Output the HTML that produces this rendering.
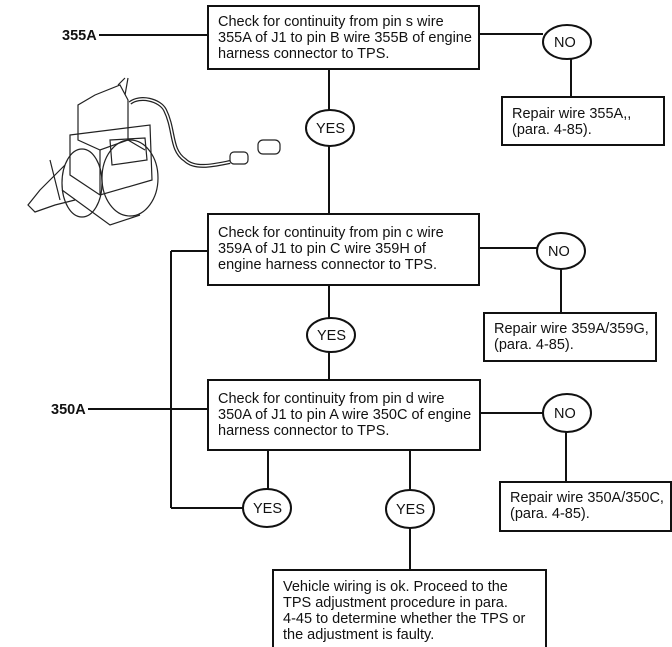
<!DOCTYPE html>
<html><head><style>
html,body{margin:0;padding:0;background:#fff;}
svg{display:block;}
text{font-family:"Liberation Sans",Arial,sans-serif;font-size:14.5px;fill:#111;}
</style></head><body>
<svg width="672" height="647" viewBox="0 0 672 647" xmlns="http://www.w3.org/2000/svg">
<g stroke="#111" stroke-width="2" fill="none">
<rect x="208" y="6" width="271" height="63" fill="#fff"/>
<line x1="99" y1="35" x2="208" y2="35"/>
<line x1="479" y1="34" x2="543" y2="34"/>
<ellipse cx="567" cy="42" rx="24" ry="17" fill="#fff"/>
<line x1="571" y1="59" x2="571" y2="97"/>
<rect x="502" y="97" width="162" height="48"/>
<line x1="329" y1="69" x2="329" y2="110"/>
<ellipse cx="330" cy="128" rx="24" ry="18"/>
<line x1="329" y1="146" x2="329" y2="214"/>
<rect x="208" y="214" width="271" height="71"/>
<line x1="208" y1="251" x2="171" y2="251"/>
<line x1="171" y1="251" x2="171" y2="508"/>
<line x1="171" y1="508" x2="243" y2="508"/>
<line x1="479" y1="248" x2="537" y2="248"/>
<ellipse cx="561" cy="251" rx="24" ry="18"/>
<line x1="561" y1="269" x2="561" y2="313"/>
<rect x="484" y="313" width="172" height="48"/>
<line x1="329" y1="285" x2="329" y2="318"/>
<ellipse cx="331" cy="335" rx="24" ry="17"/>
<line x1="329" y1="352" x2="329" y2="380"/>
<rect x="208" y="380" width="272" height="70"/>
<line x1="88" y1="409" x2="208" y2="409"/>
<line x1="480" y1="413" x2="543" y2="413"/>
<ellipse cx="567" cy="413" rx="24" ry="19"/>
<line x1="566" y1="432" x2="566" y2="482"/>
<rect x="500" y="482" width="171" height="49"/>
<line x1="268" y1="450" x2="268" y2="489"/>
<ellipse cx="267" cy="508" rx="24" ry="19"/>
<line x1="410" y1="450" x2="410" y2="490"/>
<ellipse cx="410" cy="509" rx="24" ry="19"/>
<line x1="410" y1="528" x2="410" y2="570"/>
<rect x="273" y="570" width="273" height="90"/>
</g>
<g stroke="#222" stroke-width="1.2" fill="none">
<path d="M95 95 L120 85 L128 100 L128 140 L100 150 L78 140 L78 105 Z"/>
<path d="M70 135 L150 125 L152 180 L100 195 L70 175 Z"/>
<path d="M110 140 L145 138 L147 160 L112 165 Z"/>
<ellipse cx="130" cy="178" rx="28" ry="38"/>
<ellipse cx="82" cy="183" rx="20" ry="34"/>
<path d="M65 165 L40 190 L28 205 L35 212 L55 205 L75 200"/>
<path d="M50 160 L60 200 M62 190 L110 225 L140 215"/>
<path d="M130 103 C140 95 160 100 165 110 C175 130 170 150 185 160 C195 170 215 165 230 162" stroke-width="4"/>
<path d="M130 103 C140 95 160 100 165 110 C175 130 170 150 185 160 C195 170 215 165 230 162" stroke="#fff" stroke-width="1.5"/>
<rect x="230" y="152" width="18" height="12" rx="4"/>
<rect x="258" y="140" width="22" height="14" rx="5"/>
<path d="M118 85 L125 78 M125 95 L128 78"/>
<path d="M100 150 L100 195 M128 140 L145 150"/>
</g>
<text x="62" y="40" font-weight="bold">355A</text>
<text x="51" y="414" font-weight="bold">350A</text>
<text x="218" y="26">Check for continuity from pin s wire</text>
<text x="218" y="42">355A of J1 to pin B wire 355B of engine</text>
<text x="218" y="58">harness connector to TPS.</text>
<text x="554" y="47" font-size="13">NO</text>
<text x="316" y="133" font-size="13">YES</text>
<text x="512" y="118">Repair wire 355A,,</text>
<text x="512" y="134">(para. 4-85).</text>
<text x="218" y="237">Check for continuity from pin c wire</text>
<text x="218" y="253">359A of J1 to pin C wire 359H of</text>
<text x="218" y="269">engine harness connector to TPS.</text>
<text x="548" y="256" font-size="13">NO</text>
<text x="317" y="340" font-size="13">YES</text>
<text x="494" y="333">Repair wire 359A/359G,</text>
<text x="494" y="349">(para. 4-85).</text>
<text x="218" y="403">Check for continuity from pin d wire</text>
<text x="218" y="419">350A of J1 to pin A wire 350C of engine</text>
<text x="218" y="435">harness connector to TPS.</text>
<text x="554" y="418" font-size="13">NO</text>
<text x="510" y="502">Repair wire 350A/350C,</text>
<text x="510" y="518">(para. 4-85).</text>
<text x="253" y="513" font-size="13">YES</text>
<text x="396" y="514" font-size="13">YES</text>
<text x="283" y="591">Vehicle wiring is ok. Proceed to the</text>
<text x="283" y="607">TPS adjustment procedure in para.</text>
<text x="283" y="623">4-45 to determine whether the TPS or</text>
<text x="283" y="639">the adjustment is faulty.</text>
</svg>
</body></html>
